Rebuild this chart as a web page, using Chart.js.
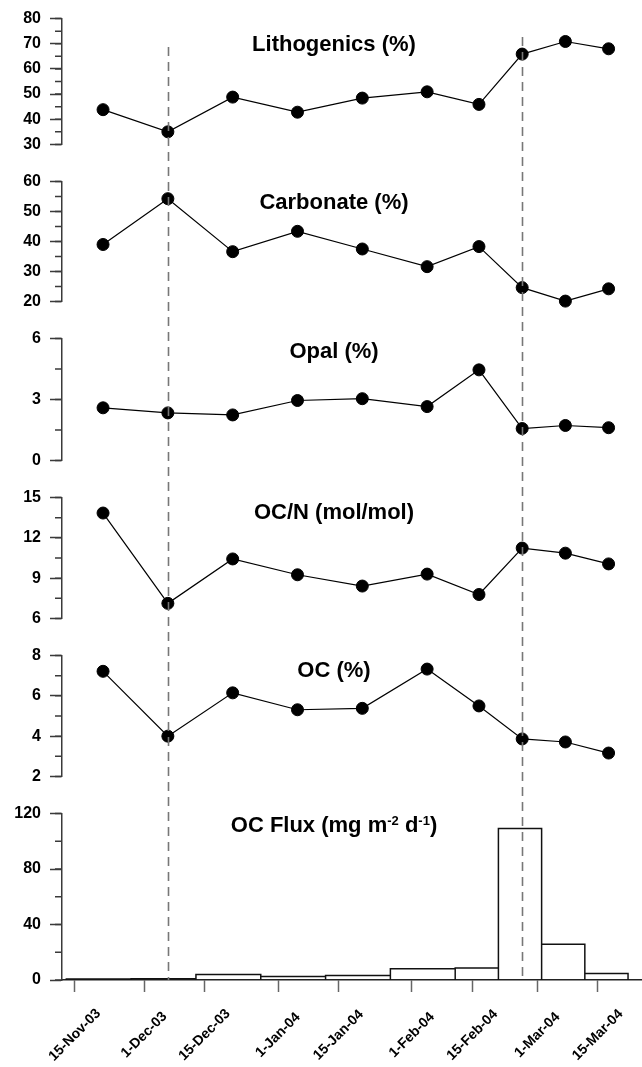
<!DOCTYPE html>
<html>
<head>
<meta charset="utf-8">
<title>Sediment trap time series</title>
<script src="https://cdn.jsdelivr.net/npm/chart.js@4.4.1/dist/chart.umd.min.js"></script>
<style>
body { margin: 0; background: #fff; }
#wrap { position: relative; width: 642px; height: 1067px; font-family: "Liberation Sans", Arial, sans-serif; }
#wrap canvas { position: absolute; left: 0; }
.ttl { position: absolute; left: 334px; transform: translateX(-50%); font-weight: bold; font-size: 22px; line-height: 22px; white-space: nowrap; color: #000; }
.ttl sup { font-size: 13px; vertical-align: 7px; line-height: 0; }
</style>
</head>
<body>
<div id="wrap">
    <canvas id="c1" width="642" height="163" style="top:0px"></canvas>
    <canvas id="c2" width="642" height="157" style="top:163px"></canvas>
    <canvas id="c3" width="642" height="159" style="top:320px"></canvas>
    <canvas id="c4" width="642" height="158" style="top:479px"></canvas>
    <canvas id="c5" width="642" height="158" style="top:637px"></canvas>
    <canvas id="c6" width="642" height="272" style="top:795px"></canvas>
    <div class="ttl" style="top:33px">Lithogenics (%)</div>
    <div class="ttl" style="top:191px">Carbonate (%)</div>
    <div class="ttl" style="top:340px">Opal (%)</div>
    <div class="ttl" style="top:501px">OC/N (mol/mol)</div>
    <div class="ttl" style="top:659px">OC (%)</div>
    <div class="ttl" style="top:814px">OC Flux (mg m<sup>-2</sup> d<sup>-1</sup>)</div>
</div>
<script>
// sample mid dates (points) and sample cup edges (bars)
var sampleDates = ["2003-11-21T12:00", "2003-12-06T12:00", "2003-12-21T12:00", "2004-01-05T12:00", "2004-01-20T12:00",
                   "2004-02-04T12:00", "2004-02-16T12:00", "2004-02-26T12:00", "2004-03-07T12:00", "2004-03-17T12:00"];
var cupEdges = ["2003-11-13", "2003-11-28", "2003-12-13", "2003-12-28", "2004-01-12", "2004-01-27",
                "2004-02-11", "2004-02-21", "2004-03-02", "2004-03-12", "2004-03-22"];

var lithogenics = [43.8, 35.0, 48.8, 42.8, 48.4, 50.9, 45.9, 65.9, 70.9, 68.0];
var carbonate = [39.0, 54.3, 36.6, 43.4, 37.5, 31.6, 38.3, 24.6, 20.1, 24.2];
var opal = [2.59, 2.34, 2.24, 2.95, 3.04, 2.65, 4.46, 1.57, 1.72, 1.61];
var ocN = [13.85, 7.12, 10.43, 9.25, 8.41, 9.30, 7.78, 11.24, 10.86, 10.06];
var oc = [7.22, 4.0, 6.15, 5.31, 5.38, 7.33, 5.5, 3.86, 3.71, 3.16];
var ocFlux = [0.7, 0.9, 3.9, 2.5, 3.2, 8.1, 8.6, 109.3, 25.7, 4.6];

var tickDates = ["2003-11-15", "2003-12-01", "2003-12-15", "2004-01-01", "2004-01-15",
                 "2004-02-01", "2004-02-15", "2004-03-01", "2004-03-15"];
var tickLabels = ["15-Nov-03", "1-Dec-03", "15-Dec-03", "1-Jan-04", "15-Jan-04",
                  "1-Feb-04", "15-Feb-04", "1-Mar-04", "15-Mar-04"];
var markerDates = ["2003-12-06T12:00", "2004-02-26T12:00"];
var markerTops = [47, 37];   // where each dashed line starts (page px)
var xRange = ["2003-11-12", "2004-03-25"];

var FONT = '"Liberation Sans", Arial, sans-serif';
var AXIS_BOTTOM = 980;

function dayNum(s) {
    var p = s.split("T");
    var d = p[0].split("-");
    var h = p[1] ? parseInt(p[1], 10) : 0;
    return Date.UTC(+d[0], +d[1] - 1, +d[2], h) / 86400000;
}

function pairs(values) {
    return values.map(function(v, i) { return { x: dayNum(sampleDates[i]), y: v }; });
}

function barOutline(values) {
    var pts = [];
    values.forEach(function(v, i) {
        var s = dayNum(cupEdges[i]), e = dayNum(cupEdges[i + 1]);
        pts.push({ x: s, y: 0 }, { x: s, y: v }, { x: e, y: v }, { x: e, y: 0 });
    });
    return pts;
}

var panelPlugin = {
    id: 'panelExtras',
    afterDatasetsDraw: function(chart) {
        var o = chart.options.plugins.panelExtras;
        var ctx = chart.ctx, xs = chart.scales.x, ys = chart.scales.y;
        ctx.save();
        // minor ticks on y
        ctx.strokeStyle = '#3a3a3a';
        ctx.lineWidth = 1.5;
        ctx.beginPath();
        for (var v = ys.min; v <= ys.max + 1e-9; v += o.minor) {
            var py = ys.getPixelForValue(v);
            ctx.moveTo(ys.right - 7, py);
            ctx.lineTo(ys.right, py);
        }
        ctx.stroke();
        // dashed markers
        ctx.strokeStyle = '#777';
        ctx.lineWidth = 1.6;
        ctx.setLineDash([9, 6]);
        markerDates.forEach(function(d, i) {
            var px = Math.round(xs.getPixelForValue(dayNum(d))) + 0.5;
            ctx.beginPath();
            ctx.moveTo(px, markerTops[i] - o.top);
            ctx.lineTo(px, AXIS_BOTTOM - o.top);
            ctx.stroke();
        });
        ctx.restore();
    },
    afterDraw: function(chart) {
        var o = chart.options.plugins.panelExtras;
        if (!o.dateLabels) return;
        var ctx = chart.ctx, xs = chart.scales.x;
        ctx.save();
        ctx.font = 'bold 14px ' + FONT;
        ctx.fillStyle = '#000';
        ctx.textAlign = 'center';
        ctx.textBaseline = 'middle';
        tickDates.forEach(function(d, i) {
            ctx.save();
            ctx.translate(xs.getPixelForValue(dayNum(d)), xs.top + 55);
            ctx.rotate(-Math.PI / 4);
            ctx.fillText(tickLabels[i], 0, 0);
            ctx.restore();
        });
        ctx.restore();
    }
};

function makePanel(id, p) {
    var last = !!p.last;
    var ds = p.bars ? {
        data: barOutline(p.values),
        showLine: true,
        borderColor: '#111',
        borderWidth: 1.5,
        pointRadius: 0,
        clip: 2
    } : {
        data: pairs(p.values),
        showLine: true,
        borderColor: '#000',
        borderWidth: 1.2,
        pointRadius: 6,
        pointBackgroundColor: '#000',
        pointBorderColor: '#000',
        pointBorderWidth: 1,
        clip: false
    };

    return new Chart(document.getElementById(id), {
        type: 'scatter',
        data: { datasets: [ds] },
        plugins: [panelPlugin],
        options: {
            responsive: false,
            animation: false,
            events: [],
            layout: { autoPadding: false, padding: { top: p.padTop, bottom: last ? 0 : p.padBottom, left: 0, right: 1 } },
            plugins: {
                legend: { display: false },
                tooltip: { enabled: false },
                panelExtras: { minor: p.minor, top: p.top, dateLabels: last }
            },
            scales: {
                x: {
                    type: 'linear',
                    display: last,
                    min: dayNum(xRange[0]),
                    max: dayNum(xRange[1]),
                    afterBuildTicks: function(scale) {
                        scale.ticks = tickDates.map(function(d) { return { value: dayNum(d) }; });
                    },
                    afterFit: function(scale) { if (last) scale.height = 87; },
                    ticks: { display: false, autoSkip: false },
                    grid: { drawOnChartArea: false, drawTicks: true, tickLength: 12, tickColor: '#666', tickWidth: 1.5 },
                    border: { display: true, color: '#222', width: 1.5 }
                },
                y: {
                    min: p.min,
                    max: p.max,
                    afterFit: function(scale) { scale.width = 62; },
                    ticks: {
                        stepSize: p.step,
                        color: '#000',
                        padding: 9,
                        font: { family: FONT, size: 16, weight: 'bold' }
                    },
                    grid: { drawOnChartArea: false, drawTicks: true, tickLength: 12, tickColor: '#3a3a3a', tickWidth: 1.5 },
                    border: { display: true, color: '#3a3a3a', width: 1.5 }
                }
            }
        }
    });
}

makePanel('c1', { values: lithogenics, min: 30, max: 80, step: 10, minor: 5, top: 0, padTop: 16.7, padBottom: 11.3 });
makePanel('c2', { values: carbonate, min: 20, max: 60, step: 10, minor: 5, top: 163, padTop: 11, padBottom: 10.7 });
makePanel('c3', { values: opal, min: 0, max: 6, step: 3, minor: 1.5, top: 320, padTop: 12, padBottom: 11.3 });
makePanel('c4', { values: ocN, min: 6, max: 15, step: 3, minor: 1.5, top: 479, padTop: 11, padBottom: 11 });
makePanel('c5', { values: oc, min: 2, max: 8, step: 2, minor: 1, top: 637, padTop: 11.3, padBottom: 11.7 });
makePanel('c6', { values: ocFlux, bars: true, last: true, min: 0, max: 120, step: 40, minor: 20, top: 795, padTop: 11.7 });
</script>
</body>
</html>
